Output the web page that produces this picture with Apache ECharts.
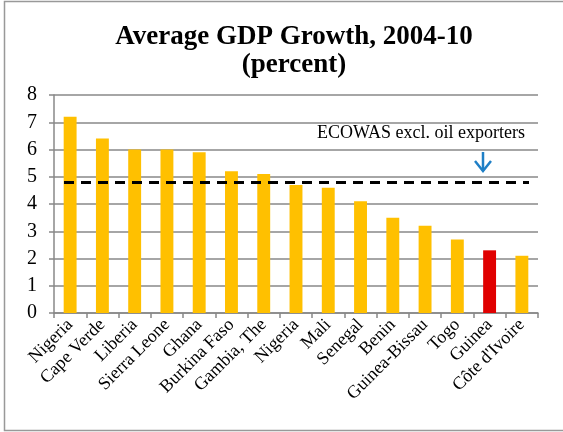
<!DOCTYPE html>
<html><head><meta charset="utf-8">
<script src="https://cdn.jsdelivr.net/npm/echarts@6/dist/echarts.min.js"></script>
<style>html,body{margin:0;padding:0;background:#fff}#c{width:563px;height:432px}</style>
</head><body><div id="c"></div>
<script>
const categories = ["Nigeria","Cape Verde","Liberia","Sierra Leone","Ghana","Burkina Faso","Gambia, The","Nigeria","Mali","Senegal","Benin","Guinea-Bissau","Togo","Guinea","Côte d'Ivoire"];
const growth = [7.2,6.4,6.0,6.0,5.9,5.2,5.1,4.7,4.6,4.1,3.5,3.2,2.7,2.3,2.1];
const highlightIndex = 13;
const ecowasAvg = 4.8;
const yTicks = [0,1,2,3,4,5,6,7,8];

const font = "'Liberation Serif','Times New Roman',serif";
const chart = echarts.init(document.getElementById('c'));
chart.setOption({
  animation:false,
  title:{text:'Average GDP Growth, 2004-10\n(percent)',left:289,top:18,textAlign:'center',
    textStyle:{fontFamily:font,fontSize:27,fontWeight:'bold',color:'#000',lineHeight:28}},
  graphic:[
    {type:'rect',shape:{x:4.5,y:1.5,width:600,height:429},style:{fill:'none',stroke:'#999',lineWidth:1.5}},
    {type:'text',left:317,top:124,style:{text:'ECOWAS excl. oil exporters',font:"18px 'Liberation Serif',serif",fill:'#000'}},
    {type:'polyline',shape:{points:[[483,152],[483,171]]},style:{stroke:'#1f7fc6',lineWidth:2.5,fill:'none'}},
    {type:'polyline',shape:{points:[[475,161],[483,171],[491,161]]},style:{stroke:'#1f7fc6',lineWidth:2.5,fill:'none'}}
  ],
  grid:{left:54,right:25,top:95,bottom:119},
  xAxis:{type:'category',data:categories,
    axisLine:{lineStyle:{color:'#888',width:1.5}},
    axisTick:{show:true,length:5,lineStyle:{color:'#888',width:1.5}},
    axisLabel:{rotate:45,interval:0,fontFamily:font,fontSize:18,color:'#000',margin:9}},
  yAxis:{type:'value',min:0,max:8,interval:1,
    axisLine:{show:true,lineStyle:{color:'#888',width:1.5}},
    axisTick:{show:true,length:5,lineStyle:{color:'#888',width:1.5}},
    splitLine:{lineStyle:{color:'#888',width:1.5}},
    axisLabel:{fontFamily:font,fontSize:20,color:'#000',margin:17,
      formatter:v=>yTicks.includes(v)?String(v):''}},
  series:[{
    type:'bar',barWidth:'40%',
    data:growth.map((v,i)=>({value:v,itemStyle:{color:i===highlightIndex?'#e00000':'#ffc000'}})),
    markLine:{silent:true,symbol:['none','none'],label:{show:false},
      lineStyle:{color:'#000',type:[10,7],width:3},
      data:[[{coord:[0,ecowasAvg],x:64},{coord:[14,ecowasAvg],x:529}]]}
  }]
});
</script></body></html>
